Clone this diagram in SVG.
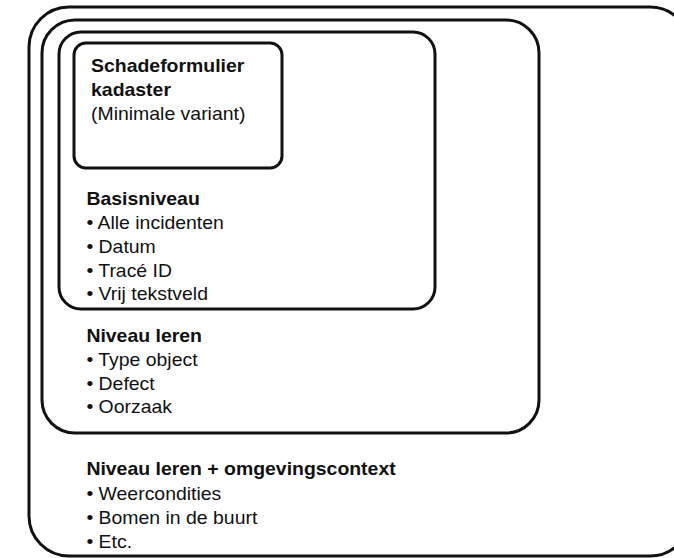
<svg xmlns="http://www.w3.org/2000/svg" width="674" height="558" viewBox="0 0 674 558">
  <style>
    .frame { fill: none; stroke: #111111; stroke-width: 3; }
    .t { font-family: "Liberation Sans", Arial, sans-serif; font-size: 18px; fill: #111111; }
    .b { font-weight: bold; }
  </style>
  <rect width="674" height="558" fill="#ffffff"/>

  <!-- Outermost level: learning + environmental context -->
  <g id="niveau-omgeving">
    <rect class="frame" x="29" y="7" width="661" height="549" rx="40" ry="40"/>
    <g transform="scale(1.08 1)">
      <text class="t b" x="80" y="475">Niveau leren + omgevingscontext</text>
      <text class="t" x="80" y="500">• Weercondities</text>
      <text class="t" x="80" y="524">• Bomen in de buurt</text>
      <text class="t" x="80" y="548">• Etc.</text>
    </g>
  </g>

  <!-- Learning level -->
  <g id="niveau-leren">
    <rect class="frame" x="42" y="20" width="497" height="413" rx="33" ry="33"/>
    <g transform="scale(1.08 1)">
      <text class="t b" x="80" y="342">Niveau leren</text>
      <text class="t" x="80" y="366">• Type object</text>
      <text class="t" x="80" y="390">• Defect</text>
      <text class="t" x="80" y="413">• Oorzaak</text>
    </g>
  </g>

  <!-- Base level -->
  <g id="basisniveau">
    <rect class="frame" x="59" y="32" width="376" height="277" rx="22" ry="22"/>
    <g transform="scale(1.08 1)">
      <text class="t b" x="80" y="205">Basisniveau</text>
      <text class="t" x="80" y="229">• Alle incidenten</text>
      <text class="t" x="80" y="253">• Datum</text>
      <text class="t" x="80" y="277">• Tracé ID</text>
      <text class="t" x="80" y="300">• Vrij tekstveld</text>
    </g>
  </g>

  <!-- Innermost: minimal cadastre damage form -->
  <g id="schadeformulier">
    <rect class="frame" x="74" y="43" width="208" height="125" rx="12" ry="12"/>
    <g transform="scale(1.08 1)">
      <text class="t b" x="84.3" y="72">Schadeformulier</text>
      <text class="t b" x="84.3" y="96">kadaster</text>
      <text class="t" x="84.3" y="120">(Minimale variant)</text>
    </g>
  </g>

  <!-- No connectors in this diagram -->
  <g id="connectors"/>
</svg>
